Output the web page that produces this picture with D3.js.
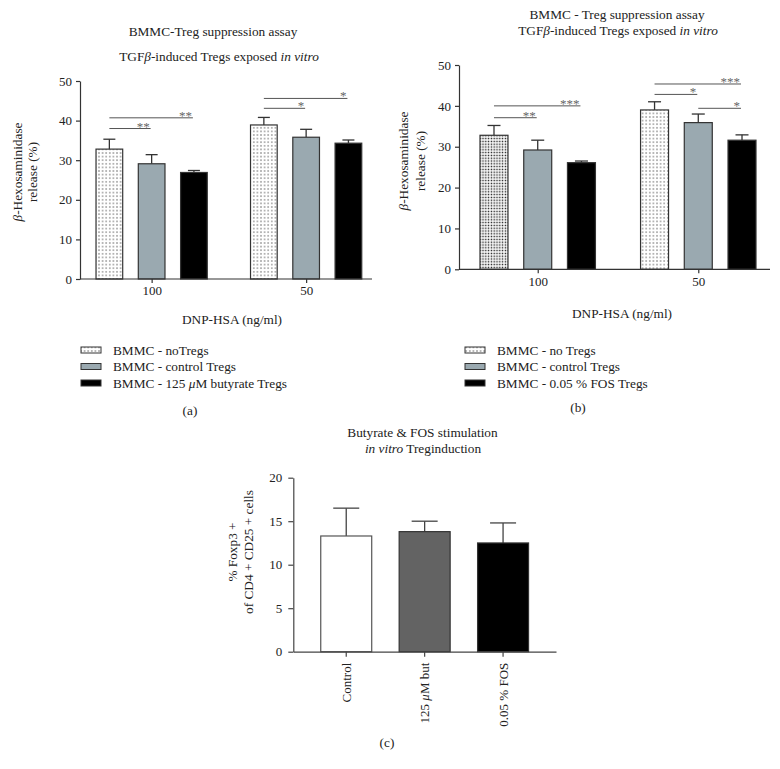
<!DOCTYPE html>
<html><head><meta charset="utf-8">
<script src="https://cdn.jsdelivr.net/npm/d3@7"></script>
<style>
body{margin:0;background:#fff;}
svg{display:block;font-family:"Liberation Serif","DejaVu Serif",serif;}
</style></head>
<body>
<svg id="chart" width="780" height="769"></svg>
<script>
// ---------- data ----------
const doses = ["100", "50"];
const seriesA = ["BMMC - noTregs", "BMMC - control Tregs", "BMMC - 125 μM butyrate Tregs"];
const meansA = [[32.8, 29.1, 26.9], [38.9, 35.8, 34.3]];
const errsA  = [[2.5, 2.3, 0.5], [1.9, 2.0, 0.8]];
const sigA = [
  {g: 0, from: 0, to: 1, y: 38.0, label: "**"},
  {g: 0, from: 0, to: 2, y: 40.7, label: "**"},
  {g: 1, from: 0, to: 1, y: 43.1, label: "*"},
  {g: 1, from: 0, to: 2, y: 45.6, label: "*"}
];
const seriesB = ["BMMC - no Tregs", "BMMC - control Tregs", "BMMC - 0.05 % FOS Tregs"];
const meansB = [[32.8, 29.2, 26.1], [39.0, 35.9, 31.6]];
const errsB  = [[2.4, 2.4, 0.4], [2.0, 2.1, 1.3]];
const sigB = [
  {g: 0, from: 0, to: 1, y: 37.1, label: "**"},
  {g: 0, from: 0, to: 2, y: 40.0, label: "***"},
  {g: 1, from: 0, to: 1, y: 42.8, label: "*"},
  {g: 1, from: 0, to: 2, y: 45.35, label: "***"},
  {g: 1, from: 1, to: 2, y: 39.4, label: "*"}
];
const yTicksAB = [0, 10, 20, 30, 40, 50];
const categoriesC = ["Control", "125 μM but", "0.05 % FOS"];
const meansC = [13.3, 13.8, 12.5];
const errsC = [3.2, 1.2, 2.3];
const yTicksC = [0, 5, 10, 15, 20];

// ---------- setup ----------
const svg = d3.select("#chart");
const defs = svg.append("defs");
function dotPattern(id, step, r, color) {
  const p = defs.append("pattern").attr("id", id).attr("patternUnits", "userSpaceOnUse")
    .attr("width", step).attr("height", step);
  p.append("rect").attr("width", step).attr("height", step).attr("fill", "#fff");
  p.append("rect").attr("x", step/2 - r/2).attr("y", step/2 - r/2).attr("width", r).attr("height", r).attr("fill", color);
}
dotPattern("dots", 3.6, 1.1, "#333");
dotPattern("dotsDense", 2.8, 1.4, "#111");
const GRAY = "#9aa9b0";
const TXT = "#222";

function addText(g, x, y, parts, opts = {}) {
  const t = g.append("text").attr("x", x).attr("y", y)
    .attr("font-size", opts.size || 13.3).attr("fill", TXT)
    .attr("text-anchor", opts.anchor || "middle");
  if (opts.transform) t.attr("transform", opts.transform);
  parts.forEach(p => {
    const s = t.append("tspan").text(typeof p === "string" ? p : p.t);
    if (typeof p !== "string" && p.i) s.attr("font-style", "italic");
  });
  return t;
}

function grouped(cfg) {
  const g = svg.append("g");
  const x0 = d3.scaleBand().domain(doses).range(cfg.xr)
    .paddingInner(cfg.pi).paddingOuter(cfg.po).align(cfg.align);
  const x1 = d3.scaleBand().domain(d3.range(3)).range([0, x0.bandwidth()]).paddingInner(cfg.pi1).paddingOuter(0);
  const y = d3.scaleLinear().domain([0, 50]).range(cfg.yr);

  const fills = (gi, si) => si === 0 ? (cfg.dense && gi === 0 ? "url(#dotsDense)" : "url(#dots)") : (si === 1 ? GRAY : "#000");

  const rows = [];
  doses.forEach((d, gi) => cfg.means[gi].forEach((v, si) => rows.push({d, gi, si, v, e: cfg.errs[gi][si]})));
  const bx = r => x0(r.d) + x1(r.si);
  // error bars
  g.selectAll(".err").data(rows).join("g").each(function(r) {
    const cx = bx(r) + x1.bandwidth()/2;
    const s = d3.select(this);
    s.append("line").attr("x1", cx).attr("x2", cx).attr("y1", y(r.v)).attr("y2", y(r.v + r.e))
      .attr("stroke", "#333").attr("stroke-width", 1.3);
    s.append("line").attr("x1", cx - cfg.cap).attr("x2", cx + cfg.cap).attr("y1", y(r.v + r.e)).attr("y2", y(r.v + r.e))
      .attr("stroke", "#333").attr("stroke-width", 1.3);
  });
  g.selectAll(".bar").data(rows).join("rect")
    .attr("x", bx).attr("width", x1.bandwidth())
    .attr("y", r => y(r.v)).attr("height", r => y(0) - y(r.v))
    .attr("fill", r => fills(r.gi, r.si)).attr("stroke", "#333").attr("stroke-width", 1.2);

  // significance
  cfg.sig.forEach(s => {
    const d = doses[s.g];
    const xa = x0(d) + x1(s.from) + x1.bandwidth()/2;
    const xb = x0(d) + x1(s.to) + x1.bandwidth()/2 - 1;
    g.append("line").attr("x1", xa).attr("x2", xb).attr("y1", y(s.y)).attr("y2", y(s.y))
      .attr("stroke", "#555").attr("stroke-width", 1);
    g.append("text").attr("x", xb - 1).attr("y", y(s.y) + 2).attr("text-anchor", "end")
      .attr("font-size", 13).attr("fill", "#666").text(s.label);
  });

  // y axis
  const ya = g.append("g").attr("transform", `translate(${cfg.xr[0]},0)`)
    .call(d3.axisLeft(y).tickValues(yTicksAB).tickSize(4).tickSizeOuter(0).tickPadding(4));
  ya.select(".domain").attr("stroke", "#333").attr("stroke-width", 1.2);
  ya.selectAll(".tick line").attr("stroke", "#333").attr("stroke-width", 1.2);
  ya.selectAll(".tick text").attr("font-size", 13).attr("font-family", "Liberation Serif").attr("fill", TXT);

  // x axis
  const xa = g.append("g").attr("transform", `translate(0,${y(0)})`)
    .call(d3.axisBottom(d3.scalePoint().domain(doses).range([x0(doses[0]) + x0.bandwidth()/2, x0(doses[1]) + x0.bandwidth()/2]))
      .tickSize(4).tickSizeOuter(0).tickPadding(3));
  xa.select(".domain").remove();
  g.append("line").attr("x1", cfg.xr[0]).attr("x2", cfg.xr[1]).attr("y1", y(0)).attr("y2", y(0))
    .attr("stroke", "#333").attr("stroke-width", 1.2);
  xa.selectAll(".tick line").attr("stroke", "#333").attr("stroke-width", 1.2);
  xa.selectAll(".tick text").attr("font-size", 13).attr("font-family", "Liberation Serif").attr("fill", TXT);

  // titles
  addText(g, cfg.t1[0], cfg.t1[1], [cfg.title1]);
  addText(g, cfg.t2[0], cfg.t2[1], ["TGF", {t: "β", i: true}, "-induced Tregs exposed ", {t: "in vitro", i: true}]);
  // y label
  addText(g, 0, 0, [{t: "β", i: true}, "-Hexosaminidase"], {transform: `translate(${cfg.yl[0]},${cfg.yl[2]}) rotate(-90)`});
  addText(g, 0, 0, ["release (%)"], {transform: `translate(${cfg.yl[1]},${cfg.yl[2]}) rotate(-90)`});
  // x label
  addText(g, cfg.xl[0], cfg.xl[1], ["DNP-HSA (ng/ml)"]);
  // legend
  const leg = g.append("g");
  cfg.series.forEach((s, i) => {
    const yy = cfg.leg[1] + i * 16.5;
    leg.append("rect").attr("x", cfg.leg[0]).attr("y", yy - 3).attr("width", 20).attr("height", 6)
      .attr("fill", i === 0 ? "url(#dots)" : (i === 1 ? GRAY : "#000")).attr("stroke", "#333").attr("stroke-width", 1);
    const parts = s.includes("μ") ? [s.split("μ")[0], {t: "μ", i: true}, s.split("μ")[1]] : [s];
    addText(leg, cfg.leg[0] + 32, yy + 4.5, parts, {anchor: "start"});
  });
  addText(g, cfg.lab[0], cfg.lab[1], [cfg.label]);
}

grouped({
  xr: [80, 372], yr: [279, 81], pi: 0.28, po: 0.085, align: 0.61, pi1: 0.369, cap: 6,
  means: meansA, errs: errsA, sig: sigA, series: seriesA, dense: false,
  title1: "BMMC-Treg suppression assay", t1: [213, 36], t2: [219, 61],
  yl: [22, 37, 172], xl: [232, 324], leg: [81, 350], lab: [190, 415], label: "(a)"
});
grouped({
  xr: [459, 770], yr: [269.3, 65], pi: 0.281, po: 0.109, align: 0.6, pi1: 0.36, cap: 6.5,
  means: meansB, errs: errsB, sig: sigB, series: seriesB, dense: true,
  title1: "BMMC - Treg suppression assay", t1: [617, 19], t2: [618, 35],
  yl: [408, 425, 161], xl: [622, 318], leg: [465, 350], lab: [578, 412], label: "(b)"
});

// ---------- panel c ----------
(function() {
  const g = svg.append("g");
  const x = d3.scaleBand().domain(categoriesC).range([293.3, 556]).paddingInner(0.35).paddingOuter(0.35);
  const y = d3.scaleLinear().domain([0, 20]).range([651.7, 477.7]);
  const fillsC = ["#fff", "#636363", "#000"];
  const rows = categoriesC.map((c, i) => ({c, i, v: meansC[i], e: errsC[i]}));
  g.selectAll(".err").data(rows).join("g").each(function(r) {
    const cx = x(r.c) + x.bandwidth()/2;
    const s = d3.select(this);
    s.append("line").attr("x1", cx).attr("x2", cx).attr("y1", y(r.v)).attr("y2", y(r.v + r.e)).attr("stroke", "#444").attr("stroke-width", 1.3);
    s.append("line").attr("x1", cx - 13).attr("x2", cx + 13).attr("y1", y(r.v + r.e)).attr("y2", y(r.v + r.e)).attr("stroke", "#444").attr("stroke-width", 1.3);
  });
  g.selectAll(".bar").data(rows).join("rect")
    .attr("x", r => x(r.c)).attr("width", x.bandwidth())
    .attr("y", r => y(r.v)).attr("height", r => y(0) - y(r.v))
    .attr("fill", r => fillsC[r.i]).attr("stroke", r => r.i === 0 ? "#555" : "#333").attr("stroke-width", 1.2);

  const ya = g.append("g").attr("transform", "translate(293.3,0)")
    .call(d3.axisLeft(y).tickValues(yTicksC).tickSize(5).tickSizeOuter(0).tickPadding(6));
  ya.select(".domain").attr("stroke", "#444").attr("stroke-width", 1.2);
  ya.selectAll(".tick line").attr("stroke", "#444").attr("stroke-width", 1.2);
  ya.selectAll(".tick text").attr("font-size", 13).attr("font-family", "Liberation Serif").attr("fill", TXT);

  const xa = g.append("g").attr("transform", `translate(0,${y(0)})`)
    .call(d3.axisBottom(x).tickSize(5).tickSizeOuter(0).tickPadding(6));
  xa.select(".domain").attr("stroke", "#444").attr("stroke-width", 1.2);
  xa.selectAll(".tick line").attr("stroke", "#444").attr("stroke-width", 1.2);
  xa.selectAll(".tick text").attr("font-size", 13).attr("font-family", "Liberation Serif").attr("fill", TXT)
    .attr("text-anchor", "end").attr("dy", null).attr("y", 0).attr("x", 0)
    .attr("transform", "translate(4.5,11) rotate(-90)")
    .each(function(d) {
      if (d.includes("μ")) {
        const t = d3.select(this); t.text(null);
        const [a, b] = d.split("μ");
        t.append("tspan").text(a); t.append("tspan").attr("font-style", "italic").text("μ"); t.append("tspan").text(b);
      }
    });

  addText(g, 422.5, 437, ["Butyrate & FOS stimulation"]);
  addText(g, 423, 453, [{t: "in vitro", i: true}, " Treginduction"]);
  addText(g, 0, 0, ["% Foxp3 +"], {transform: "translate(237,552) rotate(-90)"});
  addText(g, 0, 0, ["of CD4 + CD25 + cells"], {transform: "translate(253,552) rotate(-90)"});
  addText(g, 387, 747, ["(c)"]);
})();
</script>
</body></html>
